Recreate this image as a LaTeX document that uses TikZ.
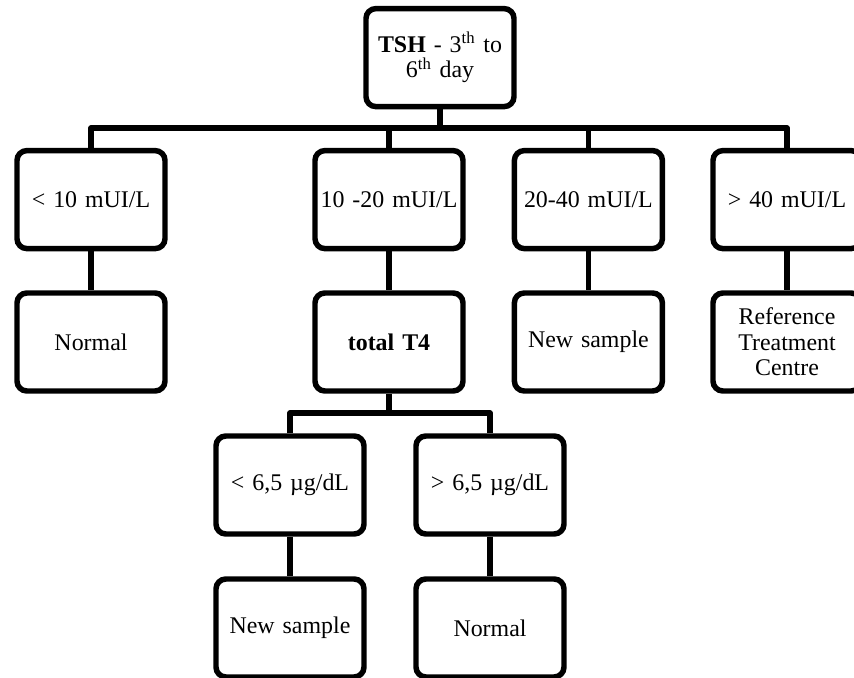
\documentclass[tikz,border=0pt]{standalone}
\usepackage{fontspec}
\setmainfont{Liberation Serif}

\begin{document}
\begin{tikzpicture}[
  cutoff/.style={rounded corners=7pt,draw=black,line width=3.9pt,fill=white,minimum width=3.7cm,minimum height=2.45cm,text width=3.6cm,align=center,inner sep=1pt,font=\fontsize{17}{18}\selectfont},
  root/.style={cutoff},
  outcome/.style={cutoff},
  link/.style={draw=black,line width=3.9pt,line join=round}
]
\useasboundingbox (0,0) rectangle (21.35,-16.95);

\node[root] (tsh) at (11.0,-1.44) {\textbf{TSH} - 3\textsuperscript{th} to\\6\textsuperscript{th} day};

\node[cutoff] (low) at (2.275,-4.99) {< 10 mUI/L};
\node[cutoff] (mid) at (9.725,-4.99) {10 -20 mUI/L};
\node[cutoff] (high) at (14.71,-4.99) {20-40 mUI/L};
\node[cutoff] (top) at (19.675,-4.99) {> 40 mUI/L};

\node[outcome] (normal) at (2.275,-8.55) {Normal};
\node[outcome] (t4) at (9.725,-8.55) {\textbf{total T4}};
\node[outcome] (resample) at (14.71,-8.55) {New sample};
\node[outcome] (refer) at (19.675,-8.55) {Reference\\Treatment\\Centre};

\node[cutoff] (t4low) at (7.25,-12.125) {< 6,5 µg/dL};
\node[cutoff] (t4high) at (12.25,-12.125) {> 6,5 µg/dL};

\node[outcome] (t4resample) at (7.25,-15.7) {New sample};
\node[outcome] (t4normal) at (12.25,-15.7) {Normal};

% barre principale sous le TSH
\coordinate (bus) at (11.0,-3.2);
\draw[link] (tsh) -- (bus);
\draw[link] (low.north) |- (top.north |- bus) -- (top.north);
\foreach \col in {mid,high}
  \draw[link] (\col.north) -- (\col.north |- bus);

\draw[link] (low) -- (normal);
\draw[link] (mid) -- (t4);
\draw[link] (high) -- (resample);
\draw[link] (top) -- (refer);

% barre du T4 total
\coordinate (t4bus) at (9.725,-10.325);
\draw[link] (t4) -- (t4bus);
\draw[link] (t4low.north) |- (t4high.north |- t4bus) -- (t4high.north);
\draw[link] (t4low) -- (t4resample);
\draw[link] (t4high) -- (t4normal);
\end{tikzpicture}
\end{document}
